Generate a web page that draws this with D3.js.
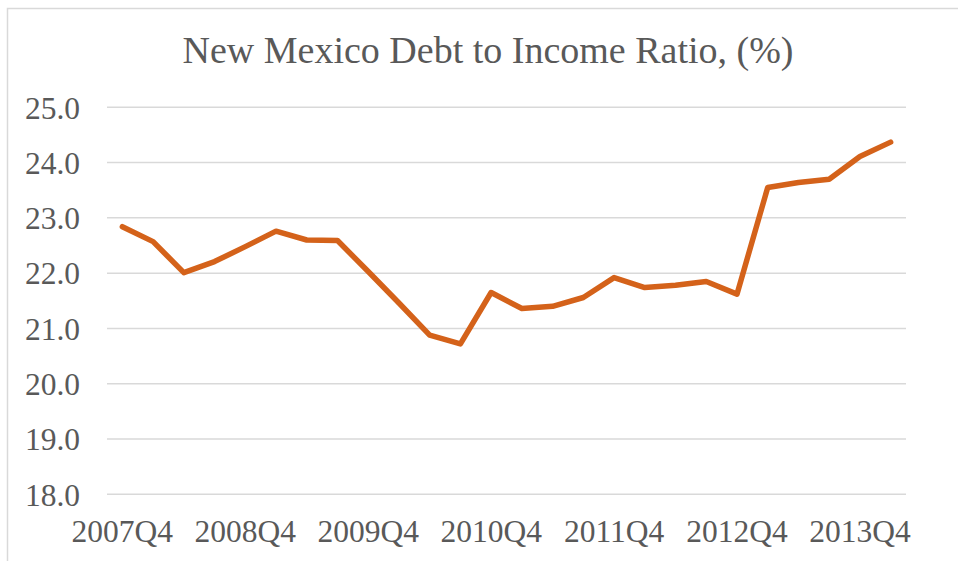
<!DOCTYPE html>
<html>
<head>
<meta charset="utf-8">
<script src="https://cdn.jsdelivr.net/npm/d3@7"></script>
<style>
  html, body { margin: 0; padding: 0; background: #fff; }
  svg { display: block; }
</style>
</head>
<body>
<div id="chart"></div>
<script>
const title = "New Mexico Debt to Income Ratio, (%)";
const quarters = [
  "2007Q4","2008Q1","2008Q2","2008Q3","2008Q4","2009Q1","2009Q2","2009Q3",
  "2009Q4","2010Q1","2010Q2","2010Q3","2010Q4","2011Q1","2011Q2","2011Q3",
  "2011Q4","2012Q1","2012Q2","2012Q3","2012Q4","2013Q1","2013Q2","2013Q3",
  "2013Q4","2014Q1"
];
const ratio = [
  22.84, 22.57, 22.01, 22.21, 22.48, 22.76, 22.60, 22.59,
  22.03, 21.46, 20.88, 20.72, 21.65, 21.36, 21.40, 21.56,
  21.92, 21.74, 21.78, 21.85, 21.62, 23.55, 23.64, 23.70,
  24.11, 24.37
];
const xTickLabels = ["2007Q4","2008Q4","2009Q4","2010Q4","2011Q4","2012Q4","2013Q4"];
const yTicks = [18, 19, 20, 21, 22, 23, 24, 25];

const W = 958, H = 561;
const plot = { left: 107, right: 906, top: 107.3, bottom: 494.3 };
const font = "'Liberation Serif', 'Times New Roman', serif";
const textColor = "#595959";

const svg = d3.select("#chart").append("svg")
  .attr("width", W).attr("height", H);

svg.append("rect")
  .attr("x", 7.5).attr("y", 8.5)
  .attr("width", 1000).attr("height", 1000)
  .attr("fill", "#fff").attr("stroke", "#d9d9d9").attr("stroke-width", 1.5);

const x = d3.scaleBand().domain(quarters).range([plot.left, plot.right]);
const y = d3.scaleLinear().domain([18, 25]).range([plot.bottom, plot.top]);

// gridlines
svg.append("g").selectAll("line").data(yTicks).join("line")
  .attr("x1", plot.left).attr("x2", plot.right)
  .attr("y1", d => y(d)).attr("y2", d => y(d))
  .attr("stroke", "#d9d9d9").attr("stroke-width", 1.5);

// y axis labels
const yAxis = d3.axisLeft(y).tickValues(yTicks).tickFormat(d3.format(".1f")).tickSize(0).tickPadding(0);
const gy = svg.append("g").attr("transform", "translate(80,0)").call(yAxis);
gy.select(".domain").remove();
gy.selectAll("text")
  .attr("font-family", font).attr("font-size", 31.5).attr("fill", textColor)
  .attr("dy", "0.34em");

// x axis labels
const xAxis = d3.axisBottom(x).tickValues(xTickLabels).tickSize(0).tickPadding(0);
const gx = svg.append("g").attr("transform", `translate(0,${plot.bottom})`).call(xAxis);
gx.select(".domain").remove();
gx.selectAll("text")
  .attr("font-family", font).attr("font-size", 31.5).attr("fill", textColor)
  .attr("dy", null).attr("y", 47.5);

// line
const line = d3.line()
  .x((d, i) => x(quarters[i]) + x.bandwidth() / 2)
  .y(d => y(d));
svg.append("path")
  .datum(ratio)
  .attr("d", line)
  .attr("fill", "none")
  .attr("stroke", "#d4621a")
  .attr("stroke-width", 5.5)
  .attr("stroke-linejoin", "round")
  .attr("stroke-linecap", "round");

// title
svg.append("text")
  .attr("x", 488).attr("y", 63)
  .attr("text-anchor", "middle")
  .attr("font-family", font).attr("font-size", 38).attr("fill", textColor)
  .text(title);
</script>
</body>
</html>
